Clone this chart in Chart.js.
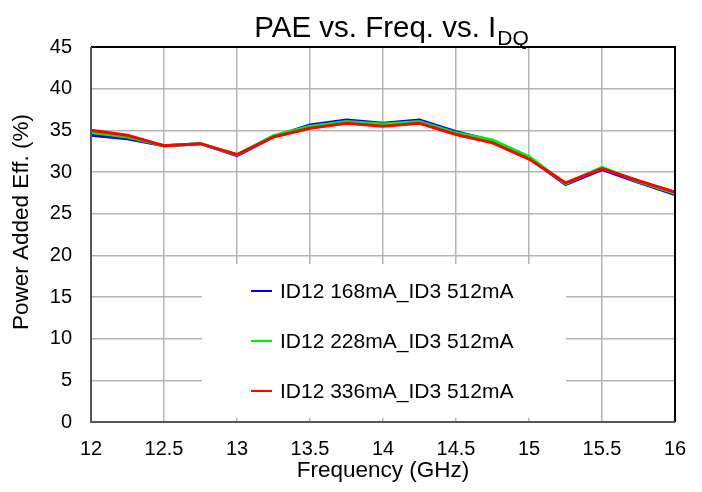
<!DOCTYPE html>
<html>
<head>
<meta charset="utf-8">
<script src="https://cdn.jsdelivr.net/npm/chart.js@4"></script>
<style>
  html, body { margin: 0; padding: 0; background: #fff; }
  #wrap { width: 702px; height: 492px; }
</style>
</head>
<body>
<div id="wrap"><canvas id="pae-chart" width="702" height="492"></canvas></div>
<script>
// Dane
const freqs = [12, 12.25, 12.5, 12.75, 13, 13.25, 13.5, 13.75, 14, 14.25, 14.5, 14.75, 15, 15.25, 15.5, 15.75, 16];
const pae168 = [34.4, 34.0, 33.15, 33.4, 31.95, 34.25, 35.65, 36.25, 35.85, 36.25, 34.85, 33.75, 31.7, 28.5, 30.3, 28.75, 27.3];
const pae228 = [34.75, 34.2, 33.15, 33.4, 32.05, 34.35, 35.5, 36.05, 35.75, 36.05, 34.7, 33.85, 31.85, 28.6, 30.55, 28.85, 27.45];
const pae336 = [35.0, 34.4, 33.15, 33.4, 32.1, 34.2, 35.25, 35.85, 35.5, 35.85, 34.5, 33.5, 31.55, 28.7, 30.4, 28.95, 27.6];
const seriesLabels = ['ID12 168mA_ID3 512mA', 'ID12 228mA_ID3 512mA', 'ID12 336mA_ID3 512mA'];
const xTicks = [12, 12.5, 13, 13.5, 14, 14.5, 15, 15.5, 16];
const yTicks = [0, 5, 10, 15, 20, 25, 30, 35, 40, 45];
const yTitle = 'Power Added Eff. (%)';

const FONT = '"Liberation Sans", Arial, Helvetica, sans-serif';
const colors = ['#0000ff', '#00ee00', '#ff0000'];

function toPoints(values) {
    return values.map((v, i) => ({ x: freqs[i], y: v }));
}

// Tytuł z indeksem dolnym + opis osi Y
const titlePlugin = {
    id: 'subTitle',
    afterDraw(chart) {
        const ctx = chart.ctx;
        ctx.save();
        ctx.fillStyle = '#000';
        ctx.textBaseline = 'alphabetic';
        ctx.textAlign = 'left';
        const main = 'PAE vs. Freq. vs. I';
        const sub = 'DQ';
        ctx.font = '29.5px ' + FONT;
        const w1 = ctx.measureText(main).width;
        ctx.font = '21px ' + FONT;
        const w2 = ctx.measureText(sub).width;
        const x0 = 391 - (w1 + w2) / 2;
        ctx.font = '29.5px ' + FONT;
        ctx.fillText(main, x0, 37);
        ctx.font = '21px ' + FONT;
        ctx.fillText(sub, x0 + w1 + 1, 45);

        // opis osi Y
        ctx.translate(22, 222);
        ctx.rotate(-Math.PI / 2);
        ctx.font = '22.5px ' + FONT;
        ctx.textAlign = 'center';
        ctx.textBaseline = 'middle';
        ctx.fillText(yTitle, 0, 0);
        ctx.restore();
    }
};

// Ramka obszaru wykresu i legenda w środku
const framePlugin = {
    id: 'frameAndLegend',
    afterDatasetsDraw(chart) {
        const ctx = chart.ctx;
        const a = chart.chartArea;
        ctx.save();

        // legenda
        const bx = 202, by = 264, bw = 364, bh = 154;
        ctx.fillStyle = '#fff';
        ctx.fillRect(bx, by, bw, bh);
        ctx.font = '21px ' + FONT;
        ctx.textBaseline = 'middle';
        ctx.textAlign = 'left';
        const rows = [291, 341, 391];
        chart.data.datasets.forEach((ds, i) => {
            ctx.strokeStyle = ds.borderColor;
            ctx.lineWidth = 2;
            ctx.beginPath();
            ctx.moveTo(251, rows[i]);
            ctx.lineTo(272, rows[i]);
            ctx.stroke();
            ctx.fillStyle = '#000';
            ctx.fillText(ds.label, 280, rows[i] + 1);
        });

        // ramka
        ctx.lineWidth = 2;
        ctx.strokeStyle = '#000';
        ctx.beginPath();
        ctx.moveTo(a.left, a.top);
        ctx.lineTo(a.right, a.top);
        ctx.lineTo(a.right, a.bottom);
        ctx.stroke();
        ctx.strokeStyle = '#555';
        ctx.beginPath();
        ctx.moveTo(a.left, a.top);
        ctx.lineTo(a.left, a.bottom);
        ctx.lineTo(a.right, a.bottom);
        ctx.stroke();
        ctx.restore();
    }
};

const datasets = [pae168, pae228, pae336].map((vals, i) => ({
    label: seriesLabels[i],
    data: toPoints(vals),
    borderColor: colors[i],
    backgroundColor: colors[i],
    borderWidth: 3,
    pointRadius: 0,
    tension: 0,
    order: 3 - i
}));

const ctx = document.getElementById('pae-chart').getContext('2d');
const chart = new Chart(ctx, {
    type: 'line',
    data: { datasets: datasets },
    options: {
        responsive: false,
        animation: false,
        devicePixelRatio: 1,
        layout: { padding: { top: 47, right: 27, left: 0, bottom: 0 } },
        plugins: {
            legend: { display: false },
            title: { display: false },
            tooltip: { enabled: false }
        },
        scales: {
            x: {
                type: 'linear',
                min: 12,
                max: 16,
                afterBuildTicks(scale) {
                    scale.ticks = xTicks.map(v => ({ value: v }));
                },
                afterFit(scale) { scale.height = 70; },
                grid: { color: '#b4b4b4', lineWidth: 1.5, drawTicks: false },
                border: { display: false },
                ticks: {
                    color: '#000',
                    padding: 15,
                    font: { family: FONT, size: 20 },
                    callback: v => String(v)
                },
                title: {
                    display: true,
                    text: 'Frequency (GHz)',
                    color: '#000',
                    font: { family: FONT, size: 22.5 },
                    padding: { top: 0, bottom: 8 }
                }
            },
            y: {
                min: 0,
                max: 45,
                afterBuildTicks(scale) {
                    scale.ticks = yTicks.map(v => ({ value: v }));
                },
                afterFit(scale) { scale.width = 91; },
                grid: { color: '#b4b4b4', lineWidth: 1.5, drawTicks: false },
                border: { display: false },
                ticks: {
                    color: '#000',
                    padding: 19,
                    font: { family: FONT, size: 20 },
                    callback: v => String(v)
                },
                title: { display: false }
            }
        }
    },
    plugins: [titlePlugin, framePlugin]
});
</script>
</body>
</html>
